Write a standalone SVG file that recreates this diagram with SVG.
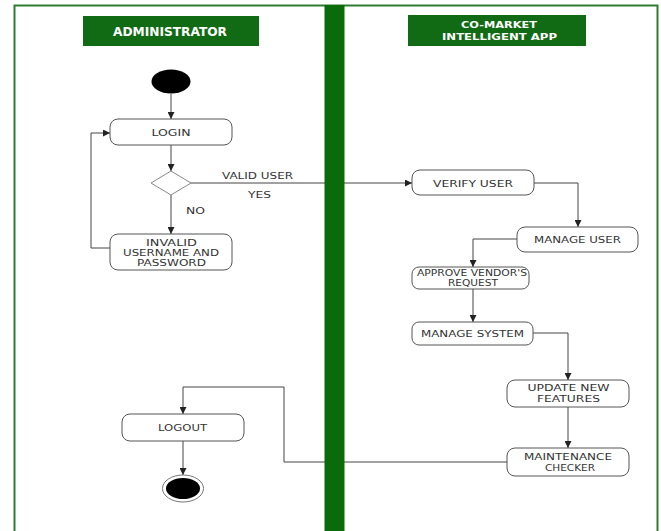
<svg xmlns="http://www.w3.org/2000/svg" width="661" height="531" viewBox="0 0 661 531">
<style>
.frame{fill:none;stroke:#2e7d32;stroke-width:2}
.hdr{fill:#116b14}
.hdrt{fill:#ffffff;font-family:"Liberation Sans Narrow","DejaVu Sans Condensed","Liberation Sans",sans-serif;font-weight:bold;font-size:11.5px;text-anchor:middle}
.hdrs{fill:#ffffff;font-family:"Liberation Sans Narrow","DejaVu Sans Condensed","Liberation Sans",sans-serif;font-weight:bold;font-size:9.5px;text-anchor:middle}
.box{fill:#ffffff;stroke:#555555;stroke-width:1}
.t{fill:#333333;font-family:"DejaVu Sans","Liberation Sans",sans-serif;font-size:9.5px;text-anchor:middle}
.ts{fill:#333333;font-family:"DejaVu Sans","Liberation Sans",sans-serif;font-size:8px;text-anchor:middle}
.c{fill:none;stroke:#444444;stroke-width:1}
</style>
<defs>
<marker id="arr" viewBox="0 0 7 7" refX="7" refY="3.5" markerWidth="7" markerHeight="7" markerUnits="userSpaceOnUse" orient="auto">
<path d="M0,0 L7,3.5 L0,7 z" fill="#222222"/>
</marker>
</defs>
<rect x="0" y="0" width="661" height="531" fill="#ffffff"/>
<g id="frame">
<path class="frame" d="M14.5,531 V5.5 H657.5 V531"/>
</g>
<g id="connectors">
<path class="c" d="M171,94 V119" marker-end="url(#arr)"/>
<path class="c" d="M171,145 V171" marker-end="url(#arr)"/>
<path class="c" d="M171,195 V234" marker-end="url(#arr)"/>
<path class="c" d="M110,248 H91 V133 H110" marker-end="url(#arr)"/>
<path class="c" d="M191,183 H412" marker-end="url(#arr)"/>
<path class="c" d="M534,183 H578 V227" marker-end="url(#arr)"/>
<path class="c" d="M517,239 H473 V267" marker-end="url(#arr)"/>
<path class="c" d="M473,289 V322" marker-end="url(#arr)"/>
<path class="c" d="M533,333 H568 V380" marker-end="url(#arr)"/>
<path class="c" d="M568,407 V448" marker-end="url(#arr)"/>
<path class="c" d="M507,462 H284 V387 H183 V414" marker-end="url(#arr)"/>
<path class="c" d="M183,441 V475" marker-end="url(#arr)"/>
<text class="t" x="257.5" y="178.5" textLength="71" lengthAdjust="spacingAndGlyphs">VALID USER</text>
<text class="t" x="259.5" y="197.5" textLength="23" lengthAdjust="spacingAndGlyphs">YES</text>
<text class="t" x="195.5" y="213.5" textLength="19" lengthAdjust="spacingAndGlyphs">NO</text>
</g>
<g id="swimlane-divider">
<rect x="324.5" y="5" width="20" height="526" fill="#0b6b0b"/>
</g>
<g id="lane-administrator">
<rect class="hdr" x="83" y="16" width="176" height="30"/>
<text class="hdrt" x="170" y="35.5" textLength="114" lengthAdjust="spacingAndGlyphs">ADMINISTRATOR</text>
</g>
<g id="lane-app">
<rect class="hdr" x="408" y="15" width="178" height="31"/>
<text class="hdrs" x="499" y="28" textLength="76" lengthAdjust="spacingAndGlyphs">CO-MARKET</text>
<text class="hdrs" x="499.5" y="40" textLength="115" lengthAdjust="spacingAndGlyphs">INTELLIGENT APP</text>
</g>
<g id="start">
<ellipse cx="171" cy="81.5" rx="19.5" ry="12" fill="#000000"/>
</g>
<g id="login">
<rect class="box" x="110" y="119" width="122" height="26" rx="8"/>
<text class="t" x="171" y="135.5" textLength="39" lengthAdjust="spacingAndGlyphs">LOGIN</text>
</g>
<g id="decision">
<path d="M171,171 L191,183 L171,195 L151,183 z" fill="#ffffff" stroke="#888888" stroke-width="1"/>
</g>
<g id="invalid">
<rect class="box" x="110" y="234" width="122" height="36" rx="8"/>
<text class="t" x="171.5" y="245.5" textLength="51" lengthAdjust="spacingAndGlyphs">INVALID</text>
<text class="t" x="171" y="255.5" textLength="96" lengthAdjust="spacingAndGlyphs">USERNAME AND</text>
<text class="t" x="171.5" y="265.5" textLength="69" lengthAdjust="spacingAndGlyphs">PASSWORD</text>
</g>
<g id="verify-user">
<rect class="box" x="412" y="170" width="122" height="25" rx="8"/>
<text class="t" x="473" y="186.5" textLength="80" lengthAdjust="spacingAndGlyphs">VERIFY USER</text>
</g>
<g id="manage-user">
<rect class="box" x="517" y="227" width="121" height="25" rx="8"/>
<text class="t" x="577.5" y="242.5" textLength="87" lengthAdjust="spacingAndGlyphs">MANAGE USER</text>
</g>
<g id="approve-vendor">
<rect class="box" x="412" y="267" width="117" height="22" rx="7"/>
<text class="ts" x="472" y="276" textLength="110" lengthAdjust="spacingAndGlyphs">APPROVE VENDOR'S</text>
<text class="ts" x="473" y="286" textLength="50" lengthAdjust="spacingAndGlyphs">REQUEST</text>
</g>
<g id="manage-system">
<rect class="box" x="412" y="322" width="121" height="23" rx="7"/>
<text class="t" x="472.5" y="336.5" textLength="103" lengthAdjust="spacingAndGlyphs">MANAGE SYSTEM</text>
</g>
<g id="update-features">
<rect class="box" x="507" y="380" width="122" height="27" rx="8"/>
<text class="t" x="568.5" y="391" textLength="82" lengthAdjust="spacingAndGlyphs">UPDATE NEW</text>
<text class="t" x="568.5" y="401.5" textLength="63" lengthAdjust="spacingAndGlyphs">FEATURES</text>
</g>
<g id="maintenance">
<rect class="box" x="507" y="448" width="122" height="28" rx="8"/>
<text class="t" x="568" y="459.5" textLength="88" lengthAdjust="spacingAndGlyphs">MAINTENANCE</text>
<text class="t" x="570" y="470.5" textLength="50" lengthAdjust="spacingAndGlyphs">CHECKER</text>
</g>
<g id="logout">
<rect class="box" x="122" y="414" width="122" height="27" rx="8"/>
<text class="t" x="182.5" y="430.5" textLength="49" lengthAdjust="spacingAndGlyphs">LOGOUT</text>
</g>
<g id="end">
<ellipse cx="183" cy="488.5" rx="20.5" ry="13.5" fill="#ffffff" stroke="#777777" stroke-width="1"/>
<ellipse cx="183" cy="488.5" rx="17" ry="10.5" fill="#000000"/>
</g>
</svg>
